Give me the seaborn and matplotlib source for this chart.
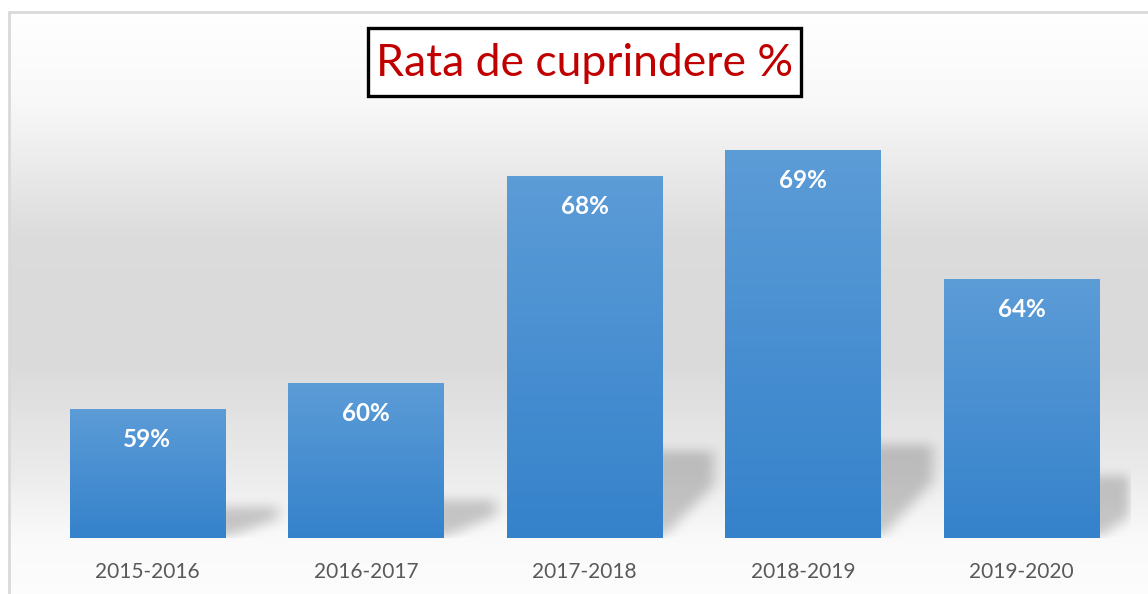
import numpy as np
import pandas as pd
import matplotlib
matplotlib.use("Agg")
import matplotlib.pyplot as plt
from matplotlib.patches import Rectangle
from matplotlib.colors import LinearSegmentedColormap
import seaborn as sns

# data
seasons = ["2015-2016", "2016-2017", "2017-2018", "2018-2019", "2019-2020"]
rates = [59, 60, 68, 69, 64]
title = "Rata de cuprindere %"

df = pd.DataFrame({"an": seasons, "rata": rates})

sns.set_theme(style="white")
plt.rcParams["font.family"] = ["Lato", "DejaVu Sans"]

W, H = 1148, 594
fig = plt.figure(figsize=(W / 100, H / 100), dpi=100)

# background gradient (white -> gray -> white)
bg = fig.add_axes([0, 0, 1, 1], zorder=0)
bg.set_axis_off()
ys = np.array([0, 12, 100, 240, 360, 470, 540, 594]) / H
vs = np.array([1.0, 1.0, 0.975, 0.86, 0.855, 0.92, 0.98, 0.99])
grad = np.interp(np.linspace(0, 1, 600), ys, vs)
img = np.repeat(grad[:, None], 2, axis=1)
bg.imshow(np.dstack([img, img, img]), aspect="auto", extent=[0, 1, 0, 1],
          origin="upper")
bg.add_patch(Rectangle((0, 1 - 12 / H), 1, 12 / H, facecolor="white",
                       edgecolor="none", transform=bg.transAxes, zorder=2))
bg.add_patch(Rectangle((0, 0), 9 / W, 1, facecolor="white",
                       edgecolor="none", transform=bg.transAxes, zorder=2))
bg.add_patch(Rectangle((9 / W, -0.1), 1.1, 1.1 - 12 / H, facecolor="none",
                       edgecolor="#d9d9d9", lw=2, transform=bg.transAxes,
                       zorder=3, clip_on=False))
bg.set_xlim(0, 1)
bg.set_ylim(0, 1)

ax = fig.add_axes([38 / W, 56 / H, 1093 / W, 414 / H], zorder=1)
ax.patch.set_alpha(0)

sns.barplot(data=df, x="an", y="rata", color="#4a90d4", width=0.71,
            saturation=1, linewidth=0, ax=ax, zorder=3)
ymin, ymax = 54, 70
xmin, xmax = -0.5, len(seasons) - 0.5
ax.set_ylim(ymin, ymax)
ax.set_xlim(xmin, xmax)

# soft shadows, rasterised then blurred
nx, ny = 1093, 414
gx = np.linspace(xmin, xmax, nx)
gy = np.linspace(ymin, ymax, ny)
XX, YY = np.meshgrid(gx, gy)
mask = np.zeros((ny, nx))

cmap = LinearSegmentedColormap.from_list("b", ["#3582cb", "#5c9cd7"])
for p in ax.patches:
    x0, y0 = p.get_x(), p.get_y()
    w, h = p.get_width(), p.get_height()
    im = ax.imshow(np.linspace(0, 1, 100)[:, None], cmap=cmap, aspect="auto",
                   extent=[x0, x0 + w, ymin, y0 + h], origin="lower", zorder=4)
    im.set_clip_path(p)

    xr = x0 + w
    sh = 0.24 * (y0 + h - ymin)
    dx = 0.24
    t = (XX - xr) / dx
    inside = (XX >= xr - 0.05) & (XX <= xr + dx) & (YY <= ymin + sh) & \
             (YY >= ymin + np.clip(t, 0, 1) * 0.6 * sh)
    mask[inside] = 1.0

def box_blur(a, r, axis):
    k = np.ones(2 * r + 1) / (2 * r + 1)
    return np.apply_along_axis(lambda m: np.convolve(m, k, mode="same"), axis, a)

for _ in range(3):
    mask = box_blur(mask, 6, 1)
    mask = box_blur(mask, 5, 0)

rgba = np.zeros((ny, nx, 4))
rgba[..., 3] = mask * 0.2
ax.imshow(rgba, extent=[xmin, xmax, ymin, ymax], origin="lower",
          aspect="auto", zorder=2)

for i, v in enumerate(rates):
    ax.annotate(f"{v}%", (i, v), xytext=(0, -22), textcoords="offset points",
                ha="center", va="center", color="white", fontsize=17.5,
                fontweight="bold", zorder=6)

ax.set_xlabel("")
ax.set_ylabel("")
ax.set_yticks([])
ax.tick_params(axis="x", length=0, pad=17, labelsize=15, labelcolor="#595959")
sns.despine(ax=ax, left=True, bottom=True)

# title box
fig.patches.append(Rectangle((368 / W, 1 - 96 / H), 433 / W, 68 / H,
                             facecolor="white", edgecolor="black", lw=2.4,
                             transform=fig.transFigure, zorder=5))
fig.text(584.5 / W, 1 - 63 / H, title, ha="center", va="center",
         color="#c00000", fontsize=32, zorder=6)

fig.savefig("out.png", dpi=100)
